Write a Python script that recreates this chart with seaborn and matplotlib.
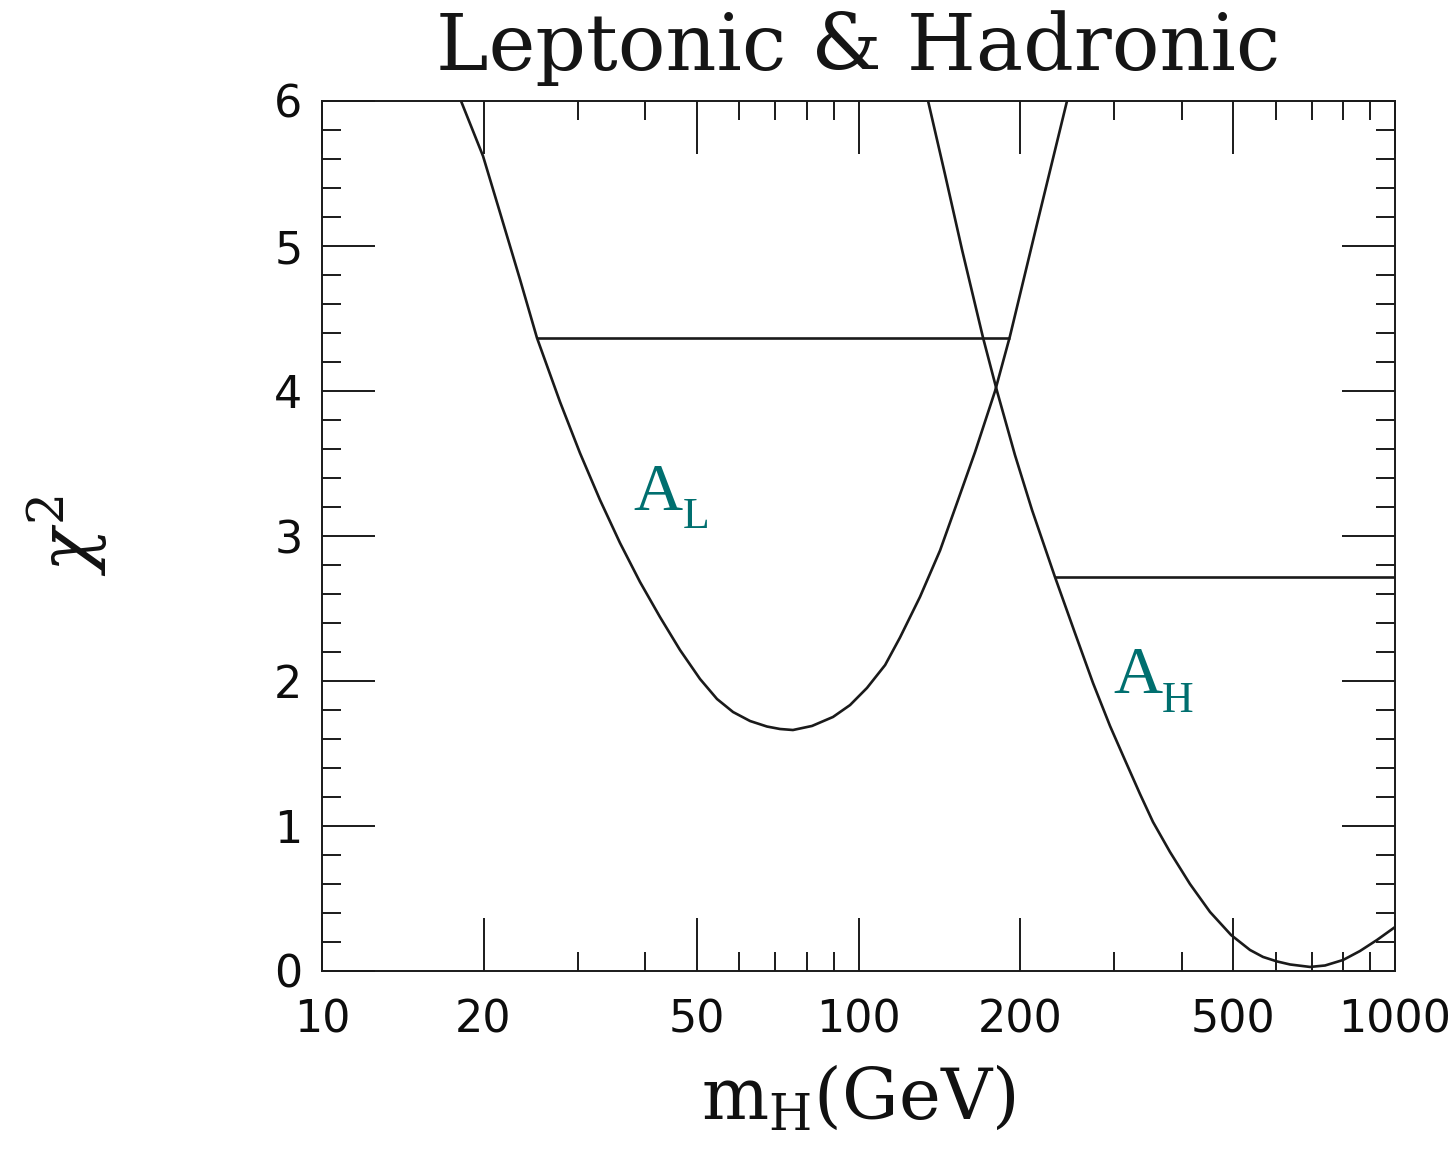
import matplotlib
matplotlib.use("Agg")
import matplotlib.pyplot as plt
import seaborn as sns
import pandas as pd
from matplotlib.ticker import FixedLocator, FixedFormatter, NullFormatter, MultipleLocator

# ---- data ----
al_mass = [18.16, 19.96, 21.47, 23.39, 25.16, 27.78, 30.26, 32.98, 35.93, 39.15, 42.66,
           46.48, 50.65, 54.48, 58.37, 62.79, 67.52, 71.40, 75.48, 81.91, 89.64, 96.43,
           103.7, 112.1, 119.5, 130.2, 141.9, 153.3, 164.9, 179.7, 191.6, 215.1, 244.7]
al_chi2 = [6.0, 5.62, 5.23, 4.77, 4.366, 3.924, 3.572, 3.248, 2.952, 2.683, 2.441,
           2.214, 2.014, 1.876, 1.786, 1.724, 1.686, 1.669, 1.662, 1.690, 1.752, 1.834,
           1.952, 2.110, 2.30, 2.58, 2.90, 3.248, 3.579, 4.0, 4.379, 5.15, 6.0]

ah_mass = [134.8, 144.9, 156.0, 170.7, 181.2, 195.7, 210.6, 232.4, 253.2, 273.6, 294.3,
           313.8, 334.7, 353.9, 380.7, 414.8, 452.1, 494.9, 536.7, 567.5, 602.6, 637.4,
           694.4, 740.6, 800.3, 860.6, 925.6, 1000]
ah_chi2 = [6.0, 5.497, 4.972, 4.366, 4.0, 3.559, 3.179, 2.717, 2.331, 1.986, 1.690,
           1.455, 1.221, 1.028, 0.821, 0.600, 0.407, 0.248, 0.145, 0.097, 0.066, 0.045,
           0.028, 0.038, 0.076, 0.138, 0.214, 0.303]

al_level_mass = [25.16, 191.6]
al_level_chi2 = [4.366, 4.366]
ah_level_mass = [232.4, 1000]
ah_level_chi2 = [2.717, 2.717]

x_major = [10, 20, 50, 100, 200, 500, 1000]
x_labels = ["10", "20", "50", "100", "200", "500", "1000"]
x_minor = [30, 40, 60, 70, 80, 90, 300, 400, 600, 700, 800, 900]
y_major = [0, 1, 2, 3, 4, 5, 6]
y_labels = ["0", "1", "2", "3", "4", "5", "6"]

title_text = "Leptonic & Hadronic"
label_names = ["A", "A"]
label_subs = ["L", "H"]
label_pos_mass = [38.0, 298.0]
label_pos_chi2 = [3.18, 1.917]
sub_pos_mass = [47.1, 368.0]
sub_pos_chi2 = [3.055, 1.786]

# ---- style ----
sns.set_theme(style="ticks")
plt.rcParams["font.family"] = ["DejaVu Sans"]
plt.rcParams["mathtext.fontset"] = "dejavuserif"

line_color = "#1a1a1a"
teal = "#006f6f"

fig = plt.figure(figsize=(14.54, 11.54), dpi=100)
ax = fig.add_axes([322 / 1454, 1 - 971 / 1154, (1395 - 322) / 1454, (971 - 101) / 1154])
ax.set_xscale("log")

curves = [
    (al_mass, al_chi2),
    (ah_mass, ah_chi2),
    (al_level_mass, al_level_chi2),
    (ah_level_mass, ah_level_chi2),
]
for m, c in curves:
    df = pd.DataFrame({"m": m, "chi2": c})
    sns.lineplot(data=df, x="m", y="chi2", ax=ax, color=line_color, linewidth=1.9,
                 sort=False, estimator=None)
for ln in ax.lines:
    ln.set_solid_joinstyle("round")
    ln.set_solid_capstyle("butt")

ax.set_xlim(10, 1000)
ax.set_ylim(0, 6)

ax.xaxis.set_major_locator(FixedLocator(x_major))
ax.xaxis.set_major_formatter(FixedFormatter(x_labels))
ax.xaxis.set_minor_locator(FixedLocator(x_minor))
ax.xaxis.set_minor_formatter(NullFormatter())
ax.yaxis.set_major_locator(FixedLocator(y_major))
ax.yaxis.set_major_formatter(FixedFormatter(y_labels))
ax.yaxis.set_minor_locator(MultipleLocator(0.2))

ax.tick_params(which="both", direction="in", top=True, right=True, color=line_color,
               width=1.4)
ax.tick_params(which="major", length=38, labelsize=32, labelcolor="#0d0d0d")
ax.tick_params(axis="x", which="major", pad=20)
ax.tick_params(axis="y", which="major", pad=14)
ax.tick_params(which="minor", length=13.5)
for s in ax.spines.values():
    s.set_linewidth(1.4)
    s.set_color(line_color)

ax.set_title(title_text, fontsize=57, family="DejaVu Serif", pad=22, color="#151515")
ax.set_xlabel(r"m$_{\mathrm{H}}$(GeV)", fontsize=51, family="DejaVu Serif", color="#111111")
ax.xaxis.set_label_coords(0.5, -0.108)
ax.set_ylabel(r"$\chi^2$", fontsize=52, color="#111111")
ax.yaxis.set_label_coords(-0.198, 0.5)

for name, sub, mx, my, sx, sy in zip(label_names, label_subs, label_pos_mass,
                                     label_pos_chi2, sub_pos_mass, sub_pos_chi2):
    ax.text(mx, my, name, fontsize=49, family="Liberation Serif", color=teal,
            ha="left", va="baseline")
    ax.text(sx, sy, sub, fontsize=31.5, family="Liberation Serif", color=teal,
            ha="left", va="baseline")

fig.savefig("out.png", dpi=100)
